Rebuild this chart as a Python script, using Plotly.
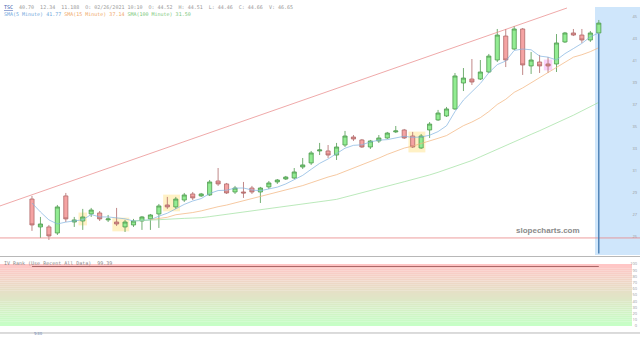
import plotly.graph_objects as go

# ---------------- data ----------------
bar_index = list(range(68))
opens = [28.45, 25.91, 25.91, 25.36, 28.73, 26.36, 26.45, 27.09, 27.18, 26.55,
         26.36, 25.91, 26.09, 26.45, 26.64, 27.09, 27.91, 27.73, 28.36, 28.91,
         28.73, 28.82, 30.09, 29.82, 29.09, 29.09, 29.45, 29.09, 29.55, 30.00,
         30.27, 30.36, 31.36, 31.73, 32.82, 32.82, 32.45, 33.36, 34.09, 33.82,
         33.18, 33.73, 34.00, 34.55, 34.73, 34.18, 33.09, 34.73, 35.64, 36.00,
         36.64, 39.00, 39.36, 39.36, 40.00, 41.09, 43.27, 42.09, 43.91, 40.55,
         40.91, 40.73, 40.73, 42.73, 43.55, 43.36, 42.91, 43.55]
highs = [28.73, 26.82, 26.09, 27.91, 29.00, 26.82, 27.55, 27.64, 27.36, 27.00,
         27.64, 26.55, 26.64, 26.91, 27.09, 28.00, 28.64, 28.64, 29.00, 29.09,
         29.00, 30.18, 31.27, 29.91, 29.64, 30.00, 29.64, 29.55, 30.09, 30.27,
         30.55, 31.27, 32.18, 32.82, 33.55, 33.36, 33.55, 34.64, 34.27, 33.91,
         33.82, 34.27, 34.55, 35.09, 34.82, 34.55, 34.36, 35.45, 36.55, 36.82,
         39.91, 40.36, 41.18, 41.09, 41.64, 43.91, 43.91, 44.18, 44.00, 41.82,
         41.55, 41.36, 43.45, 43.64, 43.91, 43.91, 43.73, 44.73]
lows = [25.55, 24.91, 24.73, 25.18, 26.36, 25.91, 25.64, 26.82, 26.45, 26.36,
        26.00, 25.45, 25.91, 25.64, 25.64, 25.82, 27.55, 27.55, 28.18, 28.36,
        28.64, 28.73, 29.64, 28.91, 28.91, 28.55, 28.91, 28.09, 29.36, 29.82,
        30.18, 30.27, 31.18, 31.55, 32.45, 32.18, 32.00, 33.18, 33.73, 33.09,
        33.00, 33.55, 33.91, 34.45, 33.91, 33.09, 33.00, 34.00, 35.55, 35.91,
        36.55, 38.27, 38.82, 39.27, 39.91, 40.91, 40.45, 42.00, 39.73, 39.82,
        39.91, 39.91, 40.00, 42.64, 43.27, 42.64, 42.73, 43.45]
closes = [26.09, 26.18, 25.09, 27.73, 26.64, 26.55, 26.82, 27.45, 26.64, 26.64,
          26.18, 26.36, 26.45, 26.82, 27.00, 27.82, 27.73, 28.45, 28.82, 28.55,
          28.91, 30.00, 29.82, 29.00, 29.45, 29.00, 29.09, 29.45, 29.91, 30.18,
          30.45, 30.91, 31.55, 32.64, 32.91, 32.45, 33.18, 34.18, 33.91, 33.18,
          33.73, 34.00, 34.45, 34.64, 34.00, 33.18, 34.18, 35.27, 36.27, 36.64,
          39.64, 39.45, 39.09, 40.00, 41.45, 43.36, 41.09, 43.91, 40.64, 41.09,
          40.55, 40.55, 42.64, 43.55, 43.36, 42.91, 43.55, 44.45]

sma5 = [28.09, 27.27, 26.55, 26.18, 26.35, 26.44, 26.56, 27.04, 26.82, 26.82,
        26.75, 26.65, 26.45, 26.49, 26.56, 26.89, 27.16, 27.56, 27.96, 28.27,
        28.49, 28.95, 29.22, 29.25, 29.44, 29.45, 29.27, 29.20, 29.38, 29.53,
        29.82, 30.18, 30.60, 31.15, 31.69, 32.09, 32.55, 33.07, 33.33, 33.38,
        33.64, 33.80, 33.85, 34.00, 34.16, 34.05, 34.09, 34.25, 34.58, 35.11,
        36.40, 37.45, 38.22, 38.96, 39.93, 40.67, 41.00, 41.96, 42.09, 42.02,
        41.45, 41.35, 41.09, 41.67, 42.13, 42.60, 43.20, 43.56]
sma15_index = list(range(14, 68))
sma15 = [26.57, 26.69, 26.79, 27.02, 27.09, 27.22, 27.37, 27.59, 27.75, 27.90,
         28.09, 28.28, 28.46, 28.66, 28.86, 29.08, 29.25, 29.46, 29.67, 29.93,
         30.22, 30.45, 30.66, 30.95, 31.28, 31.54, 31.85, 32.17, 32.51, 32.83,
         33.08, 33.26, 33.48, 33.73, 33.97, 34.22, 34.70, 35.12, 35.45, 35.85,
         36.40, 37.05, 37.52, 38.15, 38.55, 39.02, 39.51, 39.94, 40.43, 40.91,
         41.35, 41.57, 41.85, 42.21]
sma100_index = list(range(12, 68))
sma100 = [26.45, 26.50, 26.55, 26.59, 26.64, 26.66, 26.69, 26.72, 26.75, 26.85,
          26.95, 27.05, 27.15, 27.25, 27.35, 27.45, 27.55, 27.65, 27.76, 27.87,
          27.98, 28.09, 28.20, 28.31, 28.42, 28.61, 28.80, 29.00, 29.20, 29.41,
          29.61, 29.82, 30.02, 30.22, 30.39, 30.64, 30.88, 31.14, 31.39, 31.62,
          31.95, 32.29, 32.64, 32.97, 33.31, 33.65, 33.99, 34.33, 34.66, 35.00,
          35.35, 35.69, 36.07, 36.46, 36.85, 37.24]

iv_rank = [96.0, 96.0, 96.0, 96.0, 96.0, 96.0, 96.0, 96.0, 96.0, 96.0,
           96.0, 96.0, 96.0, 96.0, 96.0, 96.0, 96.0, 96.0, 96.0, 96.0,
           96.0, 96.0, 96.0, 96.0, 96.0, 96.0, 96.0, 96.0, 96.0, 96.0,
           96.0, 96.0, 96.0, 96.0, 96.0, 96.0, 96.0, 96.0, 96.0, 96.0,
           96.0, 96.0, 96.0, 96.0, 96.0, 96.0, 96.0, 96.0, 96.0, 96.0,
           96.0, 96.0, 96.0, 96.0, 96.0, 96.0, 96.0, 96.0, 96.0, 96.0,
           96.0, 96.0, 96.0, 96.0, 96.0, 96.0, 96.0, 96.0]

trend_x = [-3.78, 63.24]
trend_y = [27.82, 45.82]
support_level = 24.91
highlights = [(6, 6, "yellow"), (10, 11, "yellow"), (16, 17, "yellow"),
              (45, 46, "yellow"), (61, 61, "pink")]
price_ticks = [25, 27, 29, 31, 33, 35, 37, 39, 41, 43, 45]
iv_ticks = [0, 10, 20, 30, 40, 50, 60, 70, 80, 90, 100]

# ---------------- figure ----------------
X_RANGE = [-3.78, 71.87]
fig = go.Figure()

fig.add_trace(go.Candlestick(
    x=bar_index, open=opens, high=highs, low=lows, close=closes,
    increasing=dict(fillcolor="#92ec92", line=dict(color="#4f9a4f", width=0.8)),
    decreasing=dict(fillcolor="#f5a3a3", line=dict(color="#b06a6a", width=0.8)),
    whiskerwidth=0, showlegend=False, xaxis="x", yaxis="y"))

fig.add_trace(go.Scatter(x=bar_index, y=sma5, mode="lines",
                         line=dict(color="#7fb2e0", width=0.7),
                         showlegend=False, xaxis="x", yaxis="y"))
fig.add_trace(go.Scatter(x=sma15_index, y=sma15, mode="lines",
                         line=dict(color="#f2b27a", width=0.7),
                         showlegend=False, xaxis="x", yaxis="y"))
fig.add_trace(go.Scatter(x=sma100_index, y=sma100, mode="lines",
                         line=dict(color="#9ee09e", width=0.7),
                         showlegend=False, xaxis="x", yaxis="y"))
fig.add_trace(go.Scatter(x=trend_x, y=trend_y, mode="lines",
                         line=dict(color="#e88484", width=0.7),
                         showlegend=False, xaxis="x", yaxis="y", cliponaxis=False))

fig.add_trace(go.Scatter(x=bar_index, y=iv_rank, mode="lines",
                         line=dict(color="#a86464", width=1),
                         showlegend=False, xaxis="x2", yaxis="y2"))

shapes = []
# future/current region (blue)
shapes.append(dict(type="rect", xref="x", yref="paper", x0=66.55, x1=X_RANGE[1] + 1,
                   y0=0.2609, y1=0.9797, fillcolor="#cfe6fb", line_width=0, layer="below"))
# highlight boxes
for a, b, col in highlights:
    body_lo = min(min(opens[i], closes[i]) for i in range(a, b + 1))
    body_hi = max(max(opens[i], closes[i]) for i in range(a, b + 1))
    fc = "rgba(255,214,90,0.35)" if col == "yellow" else "rgba(240,140,240,0.40)"
    shapes.append(dict(type="rect", xref="x", yref="y", x0=a - 0.5, x1=b + 0.5,
                       y0=body_lo - 0.4, y1=body_hi + 0.4, fillcolor=fc,
                       line_width=0, layer="below"))
# support level
shapes.append(dict(type="line", xref="paper", yref="y", x0=0, x1=1,
                   y0=support_level, y1=support_level, line=dict(color="#e88484", width=0.8)))
# current bar marker line
shapes.append(dict(type="line", xref="x", yref="y", x0=bar_index[-1], x1=bar_index[-1],
                   y0=lows[-1], y1=23.5, line=dict(color="#3f76ad", width=1.3)))
# iv-rank gradient background
n_bands = 30
top_c = (255, 198, 198)
bot_c = (198, 255, 198)
for k in range(n_bands):
    t = k / (n_bands - 1)
    c = tuple(int(round(top_c[j] + (bot_c[j] - top_c[j]) * t)) for j in range(3))
    v1 = 100 - 100 * k / n_bands
    v0 = 100 - 100 * (k + 1) / n_bands
    shapes.append(dict(type="rect", xref="paper", yref="y2", x0=0, x1=0.9875,
                       y0=v0, y1=v1, fillcolor="rgb(%d,%d,%d)" % c,
                       line_width=0, layer="below"))
# panel separators
for yy in [0.2565, 0.0348]:
    shapes.append(dict(type="line", xref="paper", yref="paper", x0=0, x1=1,
                       y0=yy, y1=yy, line=dict(color="#b8b8b8", width=1)))

annotations = [
    dict(text="<span style='color:#3355aa'><u>TSC</u></span>  40.70  12.34  11.188  "
              "O: 02/26/2021 10:10  O: 44.52  H: 44.51  L: 44.46  C: 44.66  V: 46.65",
         x=0.003, y=0.995, xref="paper", yref="paper", xanchor="left", yanchor="top",
         showarrow=False, font=dict(size=5, color="#999999", family="DejaVu Sans Mono")),
    dict(text="<span style='color:#6fa8dc'>SMA(5 Minute) 41.77</span> "
              "<span style='color:#f0a868'>SMA(15 Minute) 37.14</span> "
              "<span style='color:#7cc87c'>SMA(100 Minute) 31.50</span>",
         x=0.003, y=0.975, xref="paper", yref="paper", xanchor="left", yanchor="top",
         showarrow=False, font=dict(size=5, family="DejaVu Sans Mono")),
    dict(text="IV Rank (Use Recent All Data)  99.39", x=0.003, y=0.2535,
         xref="paper", yref="paper", xanchor="left", yanchor="top", showarrow=False,
         font=dict(size=5, color="#888888", family="DejaVu Sans Mono")),
    dict(text="<b>slopecharts.com</b>", x=582 / 640, y=1 - 237 / 345,
         xref="paper", yref="paper", showarrow=False,
         font=dict(size=8, color="#8a8a8a", family="Arial")),
    dict(text="9:30", x=32 / 640, y=1 - 338 / 345, xref="paper", yref="paper",
         showarrow=False, font=dict(size=4, color="#5577aa")),
]

fig.update_layout(
    width=640, height=345, margin=dict(l=0, r=0, t=0, b=0),
    paper_bgcolor="white", plot_bgcolor="white",
    shapes=shapes, annotations=annotations, showlegend=False,
    xaxis=dict(domain=[0, 1], range=X_RANGE, showgrid=False, zeroline=False,
               showticklabels=False, rangeslider=dict(visible=False), anchor="y"),
    yaxis=dict(domain=[0.2609, 0.9797], range=[23.36, 45.91], side="right",
               tickvals=price_ticks, ticktext=[str(v) for v in price_ticks],
               ticklabelposition="inside", showgrid=False, zeroline=False,
               ticks="", tickfont=dict(size=4, color="#999999")),
    xaxis2=dict(domain=[0, 1], range=X_RANGE, showgrid=False, zeroline=False,
                showticklabels=False, anchor="y2", matches="x"),
    yaxis2=dict(domain=[0.0348, 0.2551], range=[-11.3, 111.3], side="right",
                tickvals=iv_ticks, ticktext=[str(v) for v in iv_ticks],
                ticklabelposition="inside", showgrid=False, zeroline=False,
                ticks="", tickfont=dict(size=4, color="#999999")),
)

fig.write_html("out.html")
